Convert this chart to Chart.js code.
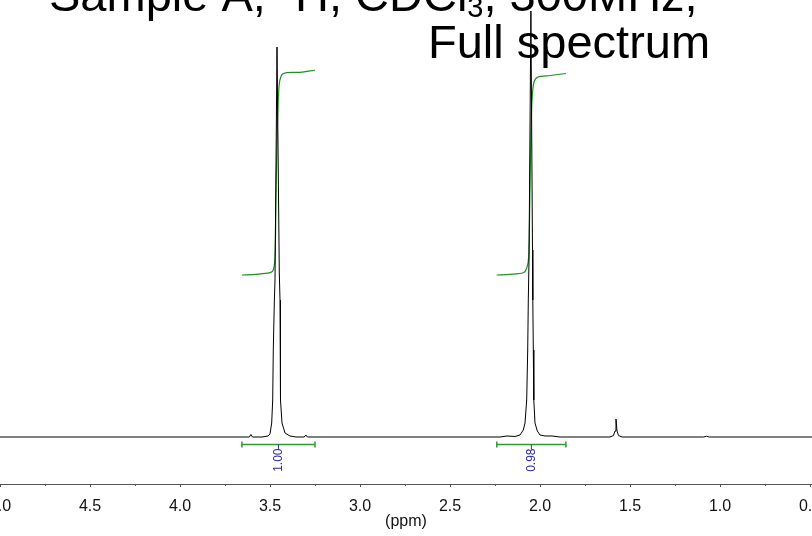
<!DOCTYPE html>
<html>
<head>
<meta charset="utf-8">
<title>1H NMR - Sample A</title>
<script src="https://cdn.jsdelivr.net/npm/chart.js@4.4.1/dist/chart.umd.min.js"></script>
<style>
  html, body { margin: 0; padding: 0; background: #fff; }
  #wrap { width: 812px; height: 536px; position: relative; }
</style>
</head>
<body>
<div id="wrap"><canvas id="nmr"></canvas></div>
<script>
/* ── 1H NMR spectrum, Sample A ───────────────── */

// ── Data ──────────────────────────────────────
// spectrum trace: shift (ppm) and relative intensity
const specPpm = [
  5.00, 3.70, 3.615, 3.606, 3.597, 3.5444, 3.5111, 3.500, 3.4906, 3.4850,
  3.4817, 3.4761, 3.4722, 3.4611, 3.4483, 3.4444, 3.4428, 3.4406, 3.4333,
  3.4167, 3.3889, 3.3556, 3.310, 3.301, 3.292,
  2.2222, 2.1833, 2.1389, 2.1111, 2.0928, 2.0833, 2.0739, 2.0683, 2.0650,
  2.0611, 2.0506, 2.0417, 2.0400, 2.0372, 2.0344, 2.0278, 2.0150, 2.0000,
  1.9722, 1.9333, 1.8889,
  1.6111, 1.5917, 1.5833, 1.5778, 1.5722, 1.5639, 1.5444,
  1.090, 1.075, 1.060, 0.48
];
const specInt = [
  0, 0, 0, 0.0064, 0, 0, 0.0026, 0.0077, 0.0359, 0.0949,
  0.2231, 0.3436, 0.4026, 1.0000, 0.4205, 0.3513, 0.2231, 0.0949, 0.0359,
  0.0103, 0.0026, 0, 0, 0.0051, 0,
  0, 0.0026, 0.0013, 0.0051, 0.0179, 0.0359, 0.0949, 0.2231, 0.3513,
  0.4538, 1.0923, 0.4795, 0.3513, 0.2231, 0.0949, 0.0359, 0.0154, 0.0051,
  0.0026, 0.0026, 0,
  0, 0.0038, 0.0154, 0.0462, 0.0154, 0.0038, 0,
  0, 0.0020, 0, 0
];

// integral curves (same intensity units)
const int1Ppm = [3.6556, 3.5778, 3.5000, 3.4817, 3.4722, 3.4667, 3.4594,
                 3.4500, 3.4350, 3.4072, 3.3333, 3.2500];
const int1Val = [0.4154, 0.4172, 0.4213, 0.4282, 0.4623, 0.6162, 0.7872,
                 0.8982, 0.9282, 0.9341, 0.9351, 0.9403];
const int2Ppm = [2.2407, 2.1667, 2.0928, 2.0739, 2.0628, 2.0567, 2.0511,
                 2.0444, 2.0333, 2.0111, 1.9444, 1.8556];
const int2Val = [0.4154, 0.4172, 0.4213, 0.4326, 0.4623, 0.6077, 0.7615,
                 0.8641, 0.9103, 0.9231, 0.9269, 0.9321];

// integration regions and their values
const intFrom   = [3.656, 2.240];
const intTo     = [3.250, 1.856];
const intLabels = ['1.00', '0.98'];

// x axis ticks
const majorTicks = [5.0, 4.5, 4.0, 3.5, 3.0, 2.5, 2.0, 1.5, 1.0, 0.5];
const minorTicks = [4.75, 4.25, 3.75, 3.25, 2.75, 2.25, 1.75, 1.25, 0.75];

// title
const titleLine1 = [
  ['Sample A, ', 'n'], ['1', 'sup'], ['H, CDCl', 'n'],
  ['3', 'sub'], [', 300MHz,', 'n']
];
const titleLine2 = 'Full spectrum';

// ── Helpers ───────────────────────────────────
const toPts = (xs, ys) => xs.map((x, i) => ({ x, y: ys[i] }));
const FONT = "'Liberation Sans', Arial, sans-serif";

Chart.defaults.font.family = FONT;
Chart.defaults.color = '#111';

// ── Extras: integral bars, minor ticks, title ──
const nmrExtras = {
  id: 'nmrExtras',
  afterDatasetsDraw(chart) {
    const ctx = chart.ctx;
    const xs  = chart.scales.x;
    const y0  = chart.scales.y.getPixelForValue(0);
    ctx.save();

    // integral bars
    intFrom.forEach((from, i) => {
      const x1 = xs.getPixelForValue(from);
      const x2 = xs.getPixelForValue(intTo[i]);
      const xm = (x1 + x2) / 2;
      const yb = Math.round(y0 + 7) + 0.5;
      ctx.strokeStyle = '#2f9a2f';
      ctx.lineWidth = 1.5;
      ctx.beginPath();
      ctx.moveTo(x1, yb); ctx.lineTo(x2, yb);
      ctx.moveTo(x1, yb - 3); ctx.lineTo(x1, yb + 3);
      ctx.moveTo(x2, yb - 3); ctx.lineTo(x2, yb + 3);
      ctx.stroke();
      ctx.strokeStyle = '#3030a8';
      ctx.lineWidth = 1;
      ctx.beginPath();
      ctx.moveTo(xm, yb); ctx.lineTo(xm, yb + 5);
      ctx.stroke();

      ctx.save();
      ctx.translate(xm, yb + 4);
      ctx.rotate(-Math.PI / 2);
      ctx.fillStyle = '#2828a0';
      ctx.font = '12px ' + FONT;
      ctx.textAlign = 'right';
      ctx.textBaseline = 'middle';
      ctx.fillText(intLabels[i], 0, 0);
      ctx.restore();
    });

    // minor ticks (short)
    const ya = chart.chartArea.bottom;
    ctx.strokeStyle = '#555';
    ctx.lineWidth = 1;
    ctx.beginPath();
    minorTicks.forEach(v => {
      const x = Math.round(xs.getPixelForValue(v)) + 0.5;
      ctx.moveTo(x, ya); ctx.lineTo(x, ya + 2);
    });
    ctx.stroke();

    // title
    ctx.fillStyle = '#000';
    ctx.textBaseline = 'alphabetic';
    ctx.textAlign = 'left';
    let x = 49;
    titleLine1.forEach(([txt, kind]) => {
      if (kind === 'n') {
        ctx.font = '47px ' + FONT;
        ctx.fillText(txt, x, 11);
      } else {
        ctx.font = '29px ' + FONT;
        ctx.fillText(txt, x, kind === 'sup' ? -6 : 17);
      }
      x += ctx.measureText(txt).width;
    });
    ctx.font = '47px ' + FONT;
    ctx.fillText(titleLine2, 428, 58);

    ctx.restore();
  }
};

// ── Chart ─────────────────────────────────────
new Chart(document.getElementById('nmr').getContext('2d'), {
  type: 'scatter',
  data: {
    datasets: [
      {
        data: toPts(specPpm, specInt),
        showLine: true,
        borderColor: '#000',
        borderWidth: 1,
        pointRadius: 0,
        tension: 0,
      },
      {
        data: toPts(int1Ppm, int1Val),
        showLine: true,
        borderColor: '#1f8f1f',
        borderWidth: 1.2,
        pointRadius: 0,
        tension: 0.3,
      },
      {
        data: toPts(int2Ppm, int2Val),
        showLine: true,
        borderColor: '#1f8f1f',
        borderWidth: 1.2,
        pointRadius: 0,
        tension: 0.3,
      },
    ]
  },
  options: {
    responsive: true,
    maintainAspectRatio: false,
    animation: false,
    layout: { padding: 0 },
    plugins: {
      legend:  { display: false },
      tooltip: { enabled: false },
    },
    scales: {
      x: {
        type: 'linear',
        reverse: true,
        min: 0.4889,
        max: 5.0,
        afterBuildTicks: s => {
          s.ticks = majorTicks.map(v => ({ value: v }));
        },
        afterFit: s => {
          s.paddingLeft = 0;
          s.paddingRight = 0;
          s.height = 52;
        },
        border: { display: true, color: '#555', width: 1 },
        grid: {
          drawOnChartArea: false,
          drawTicks: true,
          tickLength: 3,
          color: '#555',
          tickColor: '#555',
        },
        ticks: {
          autoSkip: false,
          maxRotation: 0,
          padding: 10,
          color: '#111',
          font: { size: 16 },
          callback: v => Number(v).toFixed(1),
        },
        title: {
          display: true,
          text: '(ppm)',
          color: '#111',
          font: { size: 16 },
          padding: { top: 0, bottom: 5 },
        },
      },
      y: {
        display: false,
        min: -0.1205,
        max: 1.1205,
      }
    }
  },
  plugins: [nmrExtras]
});
</script>
</body>
</html>
